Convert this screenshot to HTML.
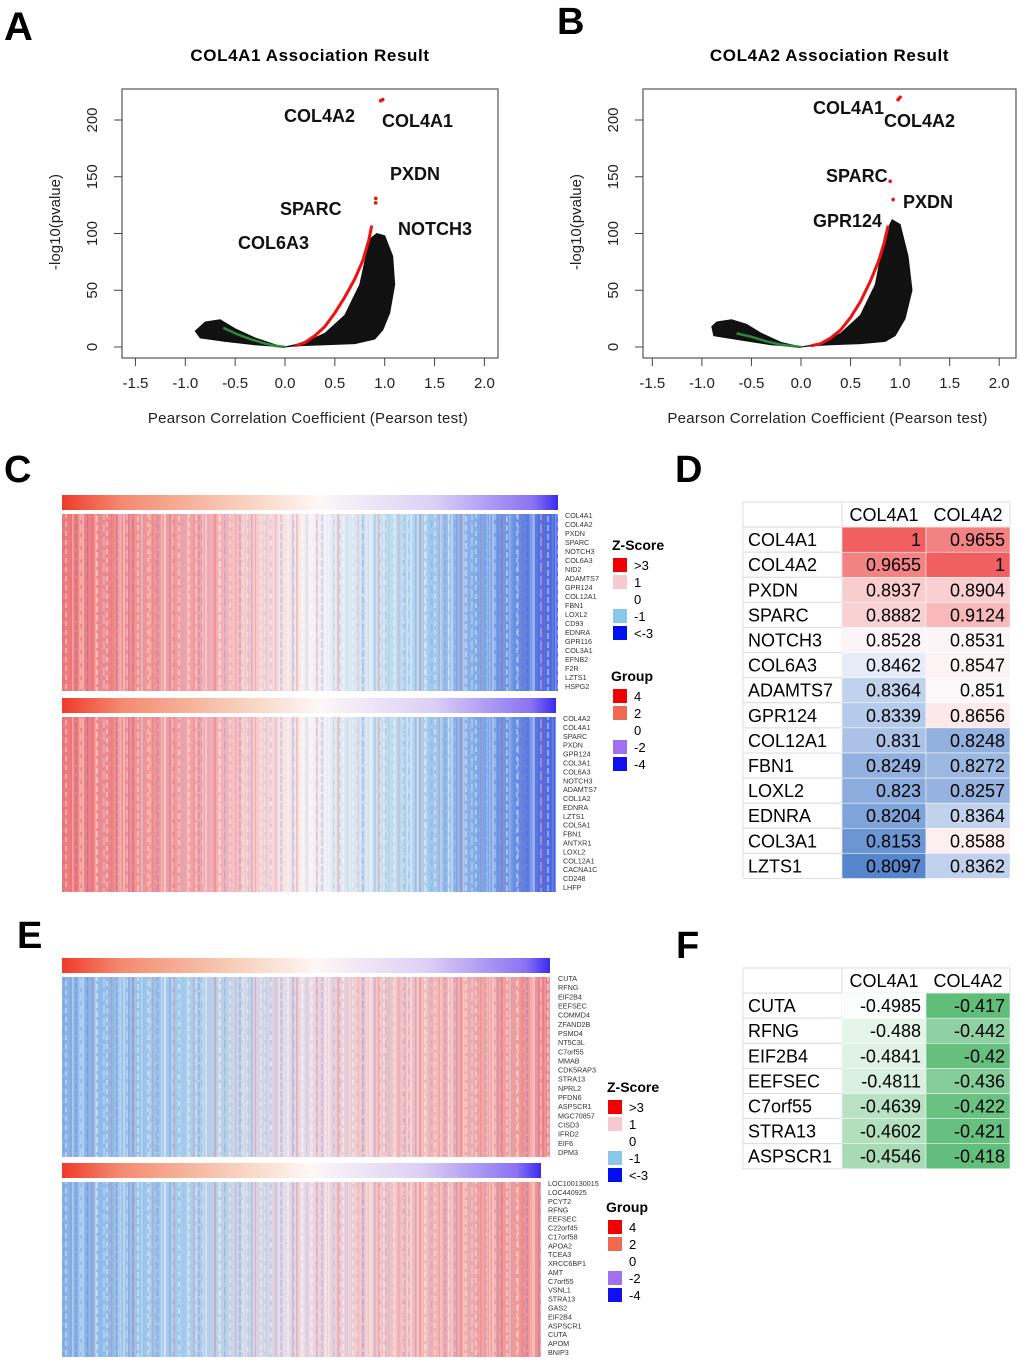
<!DOCTYPE html>
<html><head><meta charset="utf-8">
<style>
html,body{margin:0;padding:0;background:#fff;}
svg{display:block;font-family:"Liberation Sans",Arial,sans-serif;}
</style></head>
<body>
<svg id="fig" width="1020" height="1362" viewBox="0 0 1020 1362" xmlns="http://www.w3.org/2000/svg">
<defs>
  <linearGradient id="grpGrad" x1="0" x2="1" y1="0" y2="0">
    <stop offset="0" stop-color="#f03a2a"/><stop offset="0.12" stop-color="#f48a70"/>
    <stop offset="0.35" stop-color="#f8cdb8"/><stop offset="0.52" stop-color="#fdf8f6"/>
    <stop offset="0.75" stop-color="#dcd0f6"/><stop offset="0.95" stop-color="#8a72f2"/>
    <stop offset="1" stop-color="#3a2af0"/>
  </linearGradient>
  <linearGradient id="hmC" x1="0" x2="1" y1="0" y2="0">
    <stop offset="0" stop-color="#ef7a7a"/><stop offset="0.3" stop-color="#f5a9ac"/>
    <stop offset="0.5" stop-color="#f6f0f2"/><stop offset="0.7" stop-color="#b6d8ee"/>
    <stop offset="0.9" stop-color="#6e96e4"/><stop offset="1" stop-color="#4a63e2"/>
  </linearGradient>
  <linearGradient id="hmE" x1="0" x2="1" y1="0" y2="0">
    <stop offset="0" stop-color="#86b2e8"/><stop offset="0.25" stop-color="#a8cdec"/>
    <stop offset="0.5" stop-color="#ead8e2"/><stop offset="0.75" stop-color="#f4b8b8"/>
    <stop offset="1" stop-color="#f09090"/>
  </linearGradient>
  <pattern id="stripes" width="41" height="9" patternUnits="userSpaceOnUse">
    <rect x="0" y="0" width="2" height="9" fill="#ffffff" opacity="0.35"/>
    <rect x="5" y="0" width="1.5" height="9" fill="#3050d0" opacity="0.18"/>
    <rect x="9" y="0" width="2" height="9" fill="#e03030" opacity="0.2"/>
    <rect x="14" y="3" width="2" height="6" fill="#ffffff" opacity="0.4"/>
    <rect x="19" y="0" width="1.5" height="9" fill="#80c0e8" opacity="0.3"/>
    <rect x="24" y="0" width="2" height="5" fill="#ffffff" opacity="0.35"/>
    <rect x="29" y="0" width="1.5" height="9" fill="#e04040" opacity="0.18"/>
    <rect x="34" y="2" width="2" height="7" fill="#2040d0" opacity="0.15"/>
    <rect x="38" y="0" width="1.5" height="9" fill="#ffffff" opacity="0.3"/>
  </pattern>
  <pattern id="stripes2" width="23" height="13" patternUnits="userSpaceOnUse">
    <rect x="3" y="0" width="1.5" height="13" fill="#ffffff" opacity="0.3"/>
    <rect x="11" y="4" width="2" height="9" fill="#ffffff" opacity="0.25"/>
    <rect x="17" y="0" width="1.5" height="8" fill="#4060d0" opacity="0.15"/>
  </pattern>
</defs>

<text x="4" y="40" font-size="40" font-weight="bold">A</text>
<text x="557" y="34" font-size="38" font-weight="bold">B</text>
<text x="4" y="482" font-size="38" font-weight="bold">C</text>
<text x="675" y="482" font-size="38" font-weight="bold">D</text>
<text x="17" y="948" font-size="38" font-weight="bold">E</text>
<text x="676" y="958" font-size="38" font-weight="bold">F</text>

<g id="volA"></g>
<g id="volB"></g>
<g id="heatC"></g>
<g id="heatE"></g>
<g id="tabD"></g>
<g id="tabF"></g>
</svg>

<script>
const NS = "http://www.w3.org/2000/svg";
const xTicks = [-1.5, -1.0, -0.5, 0.0, 0.5, 1.0, 1.5, 2.0];
const xTickLabels = ["-1.5","-1.0","-0.5","0.0","0.5","1.0","1.5","2.0"];
const yTicks = [0, 50, 100, 150, 200];
const curveA_x = [-0.62,-0.5,-0.35,-0.2,-0.1,0,0.1,0.2,0.3,0.4,0.5,0.6,0.7,0.78,0.84,0.87];
const curveA_y = [17,12,7,3,1,0,1,4,10,18,30,44,60,76,94,107];
const cloudA_x = [-0.9,-0.8,-0.65,-0.5,-0.3,-0.1,0,0.2,0.4,0.6,0.75,0.85,0.92,1.0,1.08,1.1,1.05,0.98,0.9,0.7,0.4,0.1,0,-0.3,-0.6,-0.85];
const cloudA_y = [14,22,24,16,8,2,0,4,12,28,55,95,100,98,80,55,30,15,7,3,2,1,0,2,5,8];
const topA_x = [0.96,0.98,0.91,0.91];
const topA_y = [217,218,131,127];
const curveB_x = [-0.65,-0.5,-0.35,-0.2,-0.1,0,0.1,0.2,0.3,0.4,0.5,0.6,0.7,0.78,0.84,0.88];
const curveB_y = [12,9,5,2,1,0,1,3,8,15,26,40,58,75,92,107];
const cloudB_x = [-0.9,-0.85,-0.7,-0.55,-0.4,-0.2,0,0.2,0.4,0.6,0.75,0.85,0.92,1.0,1.08,1.12,1.05,0.95,0.85,0.6,0.3,0.1,0,-0.3,-0.6,-0.88];
const cloudB_y = [18,22,24,20,12,4,0,3,12,28,55,100,112,108,80,50,25,10,5,3,2,1,0,2,6,10];
const topB_x = [0.98,1.0,0.9,0.93];
const topB_y = [218,220,146,130];

function el(tag, attrs, parent, txt){
  const e = document.createElementNS(NS, tag);
  for (const k in attrs) e.setAttribute(k, attrs[k]);
  if (txt !== undefined) e.textContent = txt;
  parent.appendChild(e); return e;
}

function volcano(g, box, x0px, xUnit, title, cx, cy, cloudX, cloudY, topX, topY, labels){
  const sx = v => x0px + v*xUnit;
  const sy = v => 347 - v*1.135;
  let t = el('text',{x:box.x+box.w/2,y:61,'font-size':17,'font-weight':'bold','text-anchor':'middle','letter-spacing':0.6},g,title);
  
  
  let r = el('rect',{x:box.x,y:89,width:box.w,height:269,fill:'none',stroke:'#555','stroke-width':1.2},g);
  
  
  xTicks.forEach((v,i)=>{
    el('line',{x1:sx(v),x2:sx(v),y1:358,y2:366,stroke:'#444'},g);
    let tl = el('text',{x:sx(v),y:388,'font-size':15,'text-anchor':'middle',fill:'#222'},g,xTickLabels[i]);
    
    
  });
  yTicks.forEach(v=>{
    el('line',{x1:box.x-8,x2:box.x,y1:sy(v),y2:sy(v),stroke:'#444'},g);
    let tl = el('text',{x:0,y:0,'font-size':15,'text-anchor':'middle',fill:'#222',transform:`translate(${box.x-25},${sy(v)}) rotate(-90)`},g,String(v));
    
    
  });
  let yl = el('text',{x:0,y:0,'font-size':15,'text-anchor':'middle',fill:'#222',transform:`translate(${box.x-62},222) rotate(-90)`},g,'-log10(pvalue)');
  
  
  let xl = el('text',{x:box.x+box.w/2-2,y:423,'font-size':15,'text-anchor':'middle',fill:'#222','letter-spacing':0.3},g,'Pearson Correlation Coefficient (Pearson test)');
  
  
  let pts = cloudX.map((v,i)=>sx(v)+','+sy(cloudY[i])).join(' ');
  let cl = el('polygon',{points:pts,fill:'#111',stroke:'#111','stroke-width':1},g);
  
  
  let neg = [], pos = [];
  cx.forEach((v,i)=>{ const p = sx(v)+','+sy(cy[i]); if (v<=0.05) neg.push(p); if (v>=0.05) pos.push(p); });
  let gl = el('polyline',{points:neg.join(' '),fill:'none',stroke:'#2a8a3a','stroke-width':2.5},g);
  
  
  let rl = el('polyline',{points:pos.join(' '),fill:'none',stroke:'#f01010','stroke-width':3},g);
  
  
  topX.forEach((v,i)=>{
    let c = el('circle',{cx:sx(v),cy:sy(topY[i]),r:1.8,fill:'#f01010'},g);
    
    
  });
  labels.forEach(L=>{
    let lt = el('text',{x:L[1],y:L[2],'font-size':18,'font-weight':'bold',fill:'#111'},g,L[0]);
    
    
  });
}
volcano(document.getElementById('volA'),{x:122,w:376},285,99.7,'COL4A1 Association Result',curveA_x,curveA_y,cloudA_x,cloudA_y,topA_x,topA_y,
  [['COL4A2',284,122],['COL4A1',382,127],['PXDN',390,180],['SPARC',280,215],['NOTCH3',398,235],['COL6A3',238,249]]);
volcano(document.getElementById('volB'),{x:643,w:373},801,99.1,'COL4A2 Association Result',curveB_x,curveB_y,cloudB_x,cloudB_y,topB_x,topB_y,
  [['COL4A1',813,114],['COL4A2',884,127],['SPARC',826,182],['PXDN',903,208],['GPR124',813,227]]);

const genesC1 = ["COL4A1","COL4A2","PXDN","SPARC","NOTCH3","COL6A3","NID2","ADAMTS7","GPR124","COL12A1","FBN1","LOXL2","CD93","EDNRA","GPR116","COL3A1","EFNB2","F2R","LZTS1","HSPG2"];
const genesC2 = ["COL4A2","COL4A1","SPARC","PXDN","GPR124","COL3A1","COL6A3","NOTCH3","ADAMTS7","COL1A2","EDNRA","LZTS1","COL5A1","FBN1","ANTXR1","LOXL2","COL12A1","CACNA1C","CD248","LHFP"];
const genesE1 = ["CUTA","RFNG","EIF2B4","EEFSEC","COMMD4","ZFAND2B","PSMD4","NT5C3L","C7orf55","MMAB","CDK5RAP3","STRA13","NPRL2","PFDN6","ASPSCR1","MGC70857","CISD3","IFRD2","EIF6","DPM3"];
const genesE2 = ["LOC100130015","LOC440925","PCYT2","RFNG","EEFSEC","C22orf45","C17orf58","APOA2","TCEA3","XRCC6BP1","AMT","C7orf55","VSNL1","STRA13","GAS2","EIF2B4","ASPSCR1","CUTA","APOM","BNIP3"];
const zLabels = [">3","1","0","-1","<-3"];
const zColors = ["#f00000","#f8c8d0",null,"#88c8e8","#0010f0"];
const gLabels = ["4","2","0","-2","-4"];
const gColors = ["#f00000","#f06a50",null,"#a070f0","#1010f0"];

function hmBlock(g, x, y, w, h, fillId, genes, labX, name){
  let gb = el('rect',{x:x,y:y,width:w,height:15,fill:'url(#grpGrad)'},g);
  
  
  let hm = el('rect',{x:x,y:y+19,width:w,height:h,fill:'url(#'+fillId+')'},g);
  
  
  el('rect',{x:x,y:y+19,width:w,height:h,fill:'url(#stripes)'},g);
  el('rect',{x:x,y:y+19,width:w,height:h,fill:'url(#stripes2)'},g);
  const step = (h-6)/(genes.length-1);
  genes.forEach((gn,i)=>{
    let t = el('text',{x:labX,y:y+19+4+i*step,'font-size':7.2,fill:'#333'},g,gn);
    
    
  });
}
function legend(g, x, yZ, yG, zStep, gStep){
  let zt = el('text',{x:x,y:yZ,'font-size':14,'font-weight':'bold'},g,'Z-Score');
  
  
  zLabels.forEach((l,i)=>{
    const yy = yZ+8+i*zStep[i];
    if (zColors[i]) el('rect',{x:x+1,y:yy,width:14,height:14,fill:zColors[i]},g);
    let t = el('text',{x:x+22,y:yy+12,'font-size':13},g,l);
    
    
  });
  let gt = el('text',{x:x-1,y:yG,'font-size':14,'font-weight':'bold'},g,'Group');
  
  
  gLabels.forEach((l,i)=>{
    const yy = yG+8+i*gStep;
    if (gColors[i]) el('rect',{x:x+1,y:yy,width:14,height:14,fill:gColors[i]},g);
    let t = el('text',{x:x+22,y:yy+12,'font-size':13},g,l);
    
    
  });
}
const gC = document.getElementById('heatC');
hmBlock(gC,62,495,496,177,'hmC',genesC1,565,'heatmap-col4a1');
hmBlock(gC,62,698,494,175,'hmC',genesC2,563,'heatmap-col4a2');
legend(gC,612,550,681,[0,17,17,17,17],17);
const gE = document.getElementById('heatE');
hmBlock(gE,62,958,488,180,'hmE',genesE1,558,'heatmap-col4a1-negative');
hmBlock(gE,62,1163,479,175,'hmE',genesE2,548,'heatmap-col4a2-negative');
legend(gE,607,1092,1212,[0,17,17,17,17],17);

const genesD = ["COL4A1","COL4A2","PXDN","SPARC","NOTCH3","COL6A3","ADAMTS7","GPR124","COL12A1","FBN1","LOXL2","EDNRA","COL3A1","LZTS1"];
const valsD1 = ["1","0.9655","0.8937","0.8882","0.8528","0.8462","0.8364","0.8339","0.831","0.8249","0.823","0.8204","0.8153","0.8097"];
const valsD2 = ["0.9655","1","0.8904","0.9124","0.8531","0.8547","0.851","0.8656","0.8248","0.8272","0.8257","0.8364","0.8588","0.8362"];
const genesF = ["CUTA","RFNG","EIF2B4","EEFSEC","C7orf55","STRA13","ASPSCR1"];
const valsF1 = ["-0.4985","-0.488","-0.4841","-0.4811","-0.4639","-0.4602","-0.4546"];
const valsF2 = ["-0.417","-0.442","-0.42","-0.436","-0.422","-0.421","-0.418"];

function mix(a,b,t){ t=Math.max(0,Math.min(1,t)); return 'rgb('+a.map((v,i)=>Math.round(v+(b[i]-v)*t)).join(',')+')'; }
function colorD(v, min){
  const mid = 0.851;
  if (v >= mid) return mix([252,247,249],[240,96,96],(v-mid)/(1-mid));
  return mix([250,251,254],[86,134,204],(mid-v)/(mid-min));
}
function table(g, x0, y0, genes, v1, v2, colorFn){
  const cw = [99,84,84], rh = 25.1;
  const xs = [x0, x0+cw[0], x0+cw[0]+cw[1]];
  el('rect',{x:xs[1],y:y0,width:cw[1]+cw[2],height:rh,fill:'#fff',stroke:'#ddd'},g);
  el('rect',{x:xs[0],y:y0,width:cw[0],height:rh,fill:'#fff',stroke:'#ddd'},g);
  ['COL4A1','COL4A2'].forEach((h,i)=>{
    let t = el('text',{x:xs[i+1]+cw[i+1]/2,y:y0+19,'font-size':18,'text-anchor':'middle'},g,h);
    
    
  });
  genes.forEach((gn,r)=>{
    const y = y0+rh*(r+1);
    el('rect',{x:xs[0],y:y,width:cw[0],height:rh,fill:'#fff',stroke:'#ddd'},g);
    let t = el('text',{x:xs[0]+5,y:y+19,'font-size':18},g,gn);
    
    
    [v1[r],v2[r]].forEach((val,c)=>{
      let cell = el('rect',{x:xs[c+1],y:y,width:cw[c+1],height:rh,fill:colorFn(parseFloat(val),c),stroke:'#fff','stroke-width':0.5},g);
      
      
      let vt = el('text',{x:xs[c+1]+cw[c+1]-5,y:y+19,'font-size':18,'text-anchor':'end'},g,val);
      
      
    });
  });
}
const minD = Math.min(...valsD1.concat(valsD2).map(Number));
table(document.getElementById('tabD'),743,502,genesD,valsD1,valsD2,(v)=>colorD(v,minD));
const allF = valsF1.concat(valsF2).map(Number);
const fMin = Math.min(...allF), fMax = Math.max(...allF);
table(document.getElementById('tabF'),743,968,genesF,valsF1,valsF2,(v)=>mix([250,253,251],[96,189,122],(v-fMin)/(fMax-fMin)));
</script>
</body></html>
